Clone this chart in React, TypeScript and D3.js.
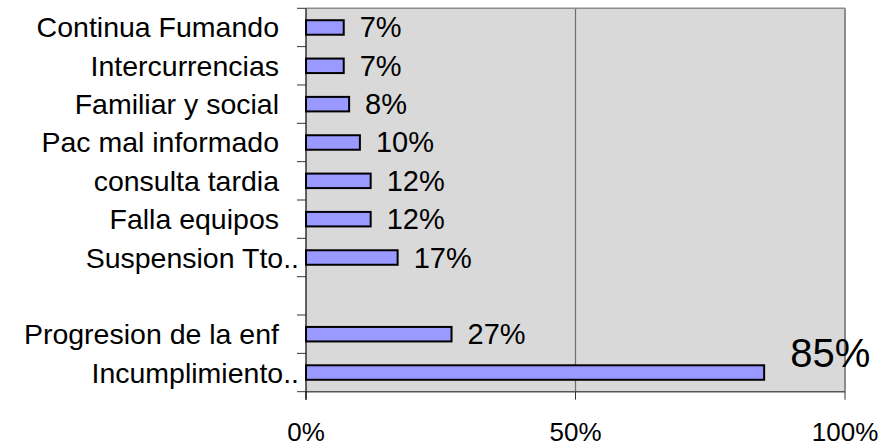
import React from "react";
import * as d3 from "d3";

const categories = [
  "Continua Fumando",
  "Intercurrencias",
  "Familiar y social",
  "Pac mal informado",
  "consulta tardia",
  "Falla equipos",
  "Suspension Tto..",
  "",
  "Progresion de la enf",
  "Incumplimiento..",
];
const values: (number | null)[] = [7, 7, 8, 10, 12, 12, 17, null, 27, 85];
const xTicks = [0, 50, 100];

const W = 894;
const H = 447;
const left = 306;
const right = 845;
const top = 8.3;
const bottom = 391.7;
const FONT = "'Liberation Sans', Arial, sans-serif";

export default function App() {
  const x = d3.scaleLinear().domain([0, 100]).range([left, right]);
  const y = d3.scaleBand<number>().domain(d3.range(categories.length)).range([top, bottom]).paddingInner(0).paddingOuter(0);
  const bw = y.bandwidth();
  const barH = 14.5;
  const maxV = d3.max(values.filter((v) => v != null) as number[]) as number;

  return (
    <svg width={W} height={H} style={{ position: "absolute", left: 0, top: 0, background: "#fff" }}>
      <rect x={left} y={top} width={right - left} height={bottom - top} fill="#d9d9d9" stroke="none" />
      {/* gridline at 50% */}
      <line x1={x(50)} x2={x(50)} y1={top} y2={bottom} stroke="#6e6e6e" strokeWidth={1.2} />
      {/* top and right borders */}
      <line x1={left} x2={right} y1={top} y2={top} stroke="#8c8c8c" strokeWidth={1.5} />
      <line x1={right} x2={right} y1={top} y2={bottom} stroke="#8c8c8c" strokeWidth={2} />
      {/* bars */}
      {values.map((v, i) =>
        v == null ? null : (
          <rect
            key={"b" + i}
            x={x(0)}
            y={(y(i) as number) + bw / 2 - barH / 2}
            width={x(v) - x(0)}
            height={barH}
            fill="#9999ff"
            stroke="#000"
            strokeWidth={2}
          />
        )
      )}
      {/* bottom axis */}
      <line x1={left} x2={right} y1={bottom} y2={bottom} stroke="#555" strokeWidth={1.5} />
      {xTicks.map((t) => (
        <g key={"xt" + t}>
          <line x1={x(t)} x2={x(t)} y1={bottom} y2={bottom + 8} stroke="#333" strokeWidth={1} />
          <text x={x(t)} y={441} textAnchor="middle" fontFamily={FONT} fontSize={26} fill="#000">
            {t + "%"}
          </text>
        </g>
      ))}
      {/* left axis */}
      <line x1={left} x2={left} y1={top} y2={bottom + 8} stroke="#000" strokeWidth={1.2} />
      {d3.range(categories.length + 1).map((i) => {
        const yy = i < categories.length ? (y(i) as number) : bottom;
        return <line key={"yt" + i} x1={left - 9} x2={left} y1={yy} y2={yy} stroke="#333" strokeWidth={1} />;
      })}
      {/* category labels */}
      {categories.map((c, i) => {
        if (!c) return null;
        const cy = (y(i) as number) + bw / 2 + 10;
        const trunc = c.endsWith("..");
        return (
          <text
            key={"c" + i}
            x={trunc ? 299 : 279}
            y={cy}
            textAnchor="end"
            fontFamily={FONT}
            fontSize={28.5}
            fill="#000"
          >
            {c}
          </text>
        );
      })}
      {/* value labels */}
      {values.map((v, i) => {
        if (v == null) return null;
        const big = v === maxV;
        const cy = (y(i) as number) + bw / 2;
        return (
          <text
            key={"v" + i}
            x={x(v) + (big ? 26 : 16)}
            y={big ? cy - 6 : cy + 10}
            fontFamily={FONT}
            fontSize={big ? 40 : 29}
            fill="#000"
          >
            {v + "%"}
          </text>
        );
      })}
    </svg>
  );
}
